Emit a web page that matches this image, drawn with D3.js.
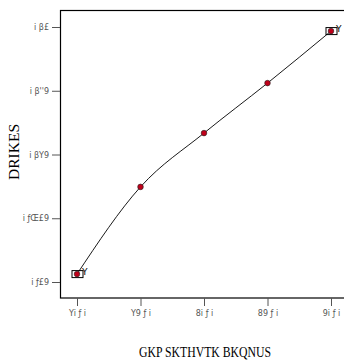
<!DOCTYPE html>
<html><head><meta charset="utf-8">
<script src="https://cdn.jsdelivr.net/npm/d3@7"></script>
<style>body{margin:0;background:#fff}svg{display:block}</style>
</head><body>
<script>
const xValues = [10, 15, 20, 25, 30];
const yValues = [0.7031, 0.7373, 0.7584, 0.7780, 0.7984];
const xTickValues = [10, 15, 20, 25, 30];
const xTickLabels = ["Yi ƒ i", "Y9 ƒ i", "8i ƒ i", "89 ƒ i", "9i ƒ i"];
const yTickValues = [0.70, 0.725, 0.75, 0.775, 0.80];
const yTickLabels = ["i ƒ£9", "i ƒŒ£9", "i βY9", "i β''9", "i β£"];
const xLabel = "GKP SKTHVTK BKQNUS";
const yLabel = "DRIKES";
const errorMarks = ["Y", "Y"];

const W = 344, H = 360;
const svg = d3.select("body").append("svg").attr("width", W).attr("height", H);
const x = d3.scaleLinear().domain([10, 30]).range([77, 331]);
const y = d3.scaleLinear().domain([0.70, 0.80]).range([282, 27]);

svg.append("rect").attr("x", 60.5).attr("y", 10.5).attr("width", 320).attr("height", 287.5)
  .attr("fill", "none").attr("stroke", "#000").attr("stroke-width", 1.2);

const xa = svg.append("g").attr("transform", "translate(0,298)")
  .call(d3.axisBottom(x).tickValues(xTickValues).tickSize(8).tickFormat((d, i) => xTickLabels[i]));
xa.select(".domain").remove();
xa.selectAll("line").attr("stroke", "#555");
xa.selectAll("text").attr("font-family", "DejaVu Sans").attr("font-size", 8).attr("fill", "#555").attr("dy", "0.9em");

const ya = svg.append("g").attr("transform", "translate(60,0)")
  .call(d3.axisLeft(y).tickValues(yTickValues).tickSize(8).tickFormat((d, i) => yTickLabels[i]));
ya.select(".domain").remove();
ya.selectAll("line").attr("stroke", "#555");
ya.selectAll("text").attr("font-family", "DejaVu Sans").attr("font-size", 8).attr("fill", "#555");

const pts = xValues.map((v, i) => [x(v), y(yValues[i])]);
svg.append("path")
  .attr("d", d3.line().curve(d3.curveMonotoneX)(pts))
  .attr("fill", "none").attr("stroke", "#000").attr("stroke-width", 0.9);

[0, 4].forEach((idx, k) => {
  const [px, py] = pts[idx];
  svg.append("rect").attr("x", px - 5).attr("y", py - 3.5).attr("width", 11).attr("height", 7)
    .attr("fill", "none").attr("stroke", "#000").attr("stroke-width", 1);
  svg.append("text").attr("x", px + 5).attr("y", py + 1).text(errorMarks[k])
    .attr("font-family", "DejaVu Sans").attr("font-size", 9);
});

svg.selectAll("circle.pt").data(pts).enter().append("circle")
  .attr("cx", d => d[0]).attr("cy", d => d[1]).attr("r", 2.8)
  .attr("fill", "#c0001a").attr("stroke", "#222").attr("stroke-width", 0.6);

svg.append("text").attr("x", 205).attr("y", 357).attr("text-anchor", "middle")
  .attr("font-family", "Liberation Serif").attr("font-size", 15)
  .attr("textLength", 132).attr("lengthAdjust", "spacingAndGlyphs").text(xLabel);
svg.append("text").attr("transform", "translate(19,152) rotate(-90)").attr("text-anchor", "middle")
  .attr("font-family", "Liberation Serif").attr("font-size", 15)
  .attr("textLength", 56).attr("lengthAdjust", "spacingAndGlyphs").text(yLabel);
</script>
</body></html>
